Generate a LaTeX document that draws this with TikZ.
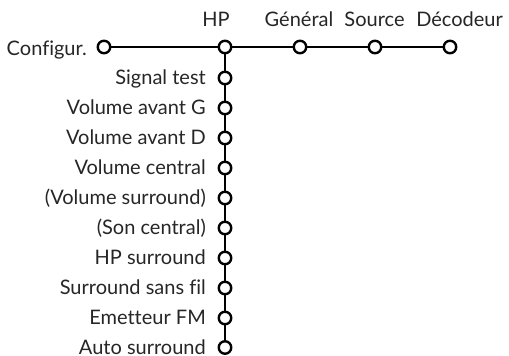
\documentclass[tikz,border=0pt]{standalone}
\usepackage{fontspec}
\setmainfont[Ligatures=NoCommon]{Lato}
\begin{document}
\begin{tikzpicture}[x=1pt,y=-1pt,
  dot/.style={circle,draw=black,fill=white,line width=2.4pt,inner sep=0pt,minimum size=12.5pt},
  lbl/.style={font=\fontsize{20}{23}\selectfont,text=black!85,inner sep=0pt},
  conn/.style={line width=2.4pt}]
\useasboundingbox (0,0) rectangle (509,356);
\node[dot] (hp) at (225,47) {};
\node[dot] (gen) at (300,47) {};
\node[dot] (src) at (375,47) {};
\node[dot] (dec) at (450,47) {};
\node[dot] (cfg) at (104,47) {};
\foreach \n/\y in {a/78,b/108,c/138,d/168,e/198,f/228,g/258,h/288,i/318,j/347.5}{
  \node[dot] (\n) at (225,\y) {};
}
\draw[conn] (cfg) -- (hp) -- (gen) -- (src) -- (dec);
\draw[conn] (hp) -- (a) -- (b) -- (c) -- (d) -- (e) -- (f) -- (g) -- (h) -- (i) -- (j);
\node[lbl,anchor=base east] (lcfg) at (87,55) {Configur.};
\node[lbl,anchor=base] (lhp) at (216,27) {HP};
\node[lbl,anchor=base] (lgen) at (299,27) {Général};
\node[lbl,anchor=base] (lsrc) at (374.5,27) {Source};
\node[lbl,anchor=base east] (ldec) at (503,27) {Décodeur};
\foreach \n/\t in {a/Signal test,b/Volume avant G,c/Volume avant D,d/Volume central,e/(Volume surround),f/(Son central),g/HP surround,h/Surround sans fil,i/Emetteur FM,j/Auto surround}{
  \node[lbl,anchor=base east] (l\n) at ([xshift=-19pt,yshift=-6.5pt]\n.center) {\t};
}
\end{tikzpicture}
\end{document}
